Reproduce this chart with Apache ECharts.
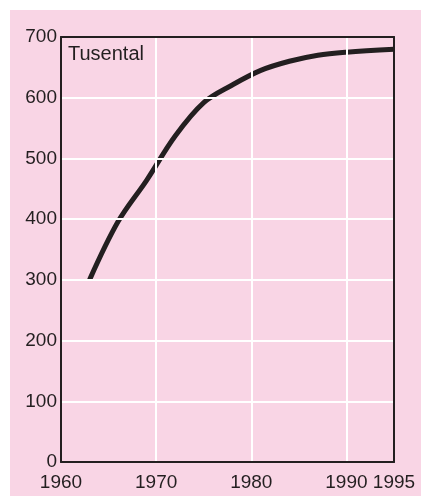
<!DOCTYPE html>
<html>
<head>
<meta charset="utf-8">
<script src="https://cdn.jsdelivr.net/npm/echarts@6/dist/echarts.min.js"></script>
<style>
    html, body { margin: 0; padding: 0; background: #ffffff; }
    #chart { width: 421px; height: 496px; }
</style>
</head>
<body>
<div id="chart"></div>
<script>
const years = [1963, 1966, 1969, 1972, 1975, 1978, 1981, 1984, 1987, 1990, 1995];
const values = [300, 396, 464, 537, 592, 621, 645, 660, 670, 675, 680];
const yTicks = [0, 100, 200, 300, 400, 500, 600, 700];
const xLabels = [1960, 1970, 1980, 1990, 1995];

const ink = "#231f20";
const font = "'Liberation Sans', Arial, sans-serif";
const chart = echarts.init(document.getElementById("chart"));

// plain frame axis, used for the top and right edges of the box
const frame = (pos, min, max) => ({
    type: "value",
    position: pos,
    min: min,
    max: max,
    z: 5,
    axisLine: { show: true, onZero: false, lineStyle: { color: ink, width: 2 } },
    axisTick: { show: false },
    axisLabel: { show: false },
    splitLine: { show: false },
});

chart.setOption({
    animation: false,
    graphic: [
        {
            type: "rect",
            left: 10,
            top: 10,
            shape: { width: 411, height: 486 },
            style: { fill: "#f9d5e5" },
            z: -10,
        },
        {
            type: "text",
            left: 68,
            top: 44,
            style: { text: "Tusental", font: "20px " + font, fill: ink },
            z: 10,
        },
    ],
    grid: {
        left: 61,
        top: 37,
        right: 27,
        bottom: 34,
    },
    xAxis: [
        {
            type: "value",
            min: 1960,
            max: 1995,
            interval: 10,
            z: 5,
            axisLine: { show: true, onZero: false, lineStyle: { color: ink, width: 2 } },
            axisTick: { show: false },
            axisLabel: {
                color: ink,
                fontSize: 19,
                fontFamily: font,
                margin: 11,
                showMaxLabel: true,
                formatter: (v) => (xLabels.includes(v) ? String(v) : ""),
            },
            splitLine: { show: true, lineStyle: { color: "#ffffff", width: 2 } },
        },
        frame("top", 1960, 1995),
    ],
    yAxis: [
        {
            type: "value",
            min: yTicks[0],
            max: yTicks[yTicks.length - 1],
            interval: 100,
            z: 5,
            axisLine: { show: true, onZero: false, lineStyle: { color: ink, width: 2 } },
            axisTick: { show: false },
            axisLabel: {
                color: ink,
                fontSize: 19,
                fontFamily: font,
                margin: 4,
                formatter: (v) => (yTicks.includes(v) ? String(v) : ""),
            },
            splitLine: { show: true, lineStyle: { color: "#ffffff", width: 2 } },
        },
        frame("right", 0, 700),
    ],
    series: [
        {
            type: "line",
            smooth: 0.35,
            showSymbol: false,
            z: 3,
            lineStyle: { color: ink, width: 5, cap: "butt" },
            data: years.map((y, i) => [y, values[i]]),
        },
    ],
});
</script>
</body>
</html>
